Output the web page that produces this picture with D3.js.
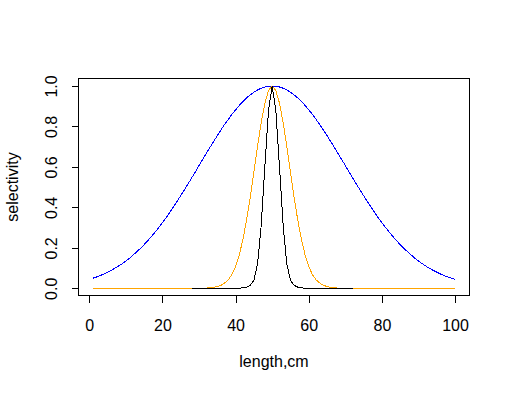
<!DOCTYPE html>
<html>
<head>
<meta charset="utf-8">
<script src="https://cdn.jsdelivr.net/npm/d3@7"></script>
<style>
    body { margin: 0; background: #fff; }
    #chart { width: 509px; height: 394px; }
    text { font-family: "Liberation Sans", Arial, sans-serif; font-size: 16px; fill: #000; }
</style>
</head>
<body>
<div id="chart"></div>
<script>
// length classes (cm)
const lengths = d3.range(1, 101)
const narrowLengths = d3.range(28, 73)

// selectivity curves
const selBlue = [
    0.050, 0.056, 0.063, 0.071, 0.080, 0.089, 0.099, 0.110, 0.122, 0.135,
    0.149, 0.165, 0.181, 0.198, 0.216, 0.236, 0.256, 0.278, 0.301, 0.325,
    0.349, 0.375, 0.402, 0.430, 0.458, 0.487, 0.516, 0.546, 0.576, 0.607,
    0.637, 0.667, 0.697, 0.726, 0.755, 0.783, 0.810, 0.835, 0.860, 0.882,
    0.904, 0.923, 0.941, 0.956, 0.969, 0.980, 0.989, 0.995, 0.999, 1.000,
    0.999, 0.995, 0.989, 0.980, 0.969, 0.956, 0.941, 0.923, 0.904, 0.882,
    0.860, 0.835, 0.810, 0.783, 0.755, 0.726, 0.697, 0.667, 0.637, 0.607,
    0.576, 0.546, 0.516, 0.487, 0.458, 0.430, 0.402, 0.375, 0.349, 0.325,
    0.301, 0.278, 0.256, 0.236, 0.216, 0.198, 0.181, 0.165, 0.149, 0.135,
    0.122, 0.110, 0.099, 0.089, 0.080, 0.071, 0.063, 0.056, 0.050, 0.044
]

const selOrange = [
    0, 0, 0, 0, 0, 0, 0, 0, 0, 0,
    0, 0, 0, 0, 0, 0, 0, 0, 0, 0,
    0, 0, 0, 0, 0, 0, 0, 0, 0, 0,
    0, 0.001, 0.003, 0.005, 0.009, 0.015, 0.026, 0.042, 0.068, 0.108,
    0.165, 0.241, 0.337, 0.449, 0.574, 0.701, 0.819, 0.915, 0.978, 1.000,
    0.978, 0.915, 0.819, 0.701, 0.574, 0.449, 0.337, 0.241, 0.165, 0.108,
    0.068, 0.042, 0.026, 0.015, 0.009, 0.005, 0.003, 0.001, 0, 0,
    0, 0, 0, 0, 0, 0, 0, 0, 0, 0,
    0, 0, 0, 0, 0, 0, 0, 0, 0, 0,
    0, 0, 0, 0, 0, 0, 0, 0, 0, 0
]

const selBlack = [
    0, 0, 0, 0, 0, 0, 0, 0, 0, 0, 0, 0, 0,
    0.001, 0.002, 0.006, 0.015, 0.040, 0.120, 0.310, 0.600, 0.880, 1.000,
    0.880, 0.600, 0.310, 0.120, 0.040, 0.015, 0.006, 0.002, 0.001,
    0, 0, 0, 0, 0, 0, 0, 0, 0, 0, 0, 0, 0
]

const xTicks = [0, 20, 40, 60, 80, 100]
const yTicks = [0, 0.2, 0.4, 0.6, 0.8, 1.0]

function draw()
{
    const width = 509
    const height = 394
    const box = { left: 78.5, right: 469.5, top: 78.5, bottom: 295.5 }

    var svg = d3.select("#chart")
        .append("svg")
            .attr("width", width)
            .attr("height", height)

    // R style 4% padding around the data range
    const x = d3.scaleLinear().domain([1 - 0.04 * 99, 100 + 0.04 * 99]).range([box.left, box.right])
    const y = d3.scaleLinear().domain([-0.04, 1.04]).range([296.4, 77.9])

    const line = d3.line().x(d => x(d[0])).y(d => y(d[1]))

    var series = [
        { xs: lengths, ys: selBlue, color: "#0000ff" },
        { xs: lengths, ys: selOrange, color: "#ffa500" },
        { xs: narrowLengths, ys: selBlack, color: "#000000" }
    ]

    // the R device draws without antialiasing
    series.forEach(s => {
        svg.append("path")
            .datum(s.xs.map((v, i) => [v, s.ys[i]]))
            .attr("fill", "none")
            .attr("stroke", s.color)
            .attr("stroke-width", 1)
            .attr("shape-rendering", "crispEdges")
            .attr("d", line)
    })

    // bottom axis
    var gx = svg.append("g")
        .attr("transform", `translate(0, ${box.bottom})`)
        .call(d3.axisBottom(x).tickValues(xTicks).tickSize(7).tickFormat(d3.format("d")))
    gx.select(".domain").remove()
    gx.selectAll("line").attr("stroke", "#000").attr("shape-rendering", "crispEdges")
    gx.selectAll("text")
        .attr("y", null).attr("dy", null)
        .attr("transform", "translate(0, 35.5)")
        .style("font-family", "'Liberation Sans', Arial, sans-serif")
        .style("font-size", "16px")

    // left axis, labels turned like R's las=0
    var gy = svg.append("g")
        .attr("transform", `translate(${box.left}, 0)`)
        .call(d3.axisLeft(y).tickValues(yTicks).tickSize(7).tickFormat(d3.format(".1f")))
    gy.select(".domain").remove()
    gy.selectAll("line").attr("stroke", "#000").attr("shape-rendering", "crispEdges")
    gy.selectAll("text")
        .attr("x", null).attr("dy", null)
        .attr("text-anchor", "middle")
        .attr("transform", "translate(-21.5, 0) rotate(-90)")
        .style("font-family", "'Liberation Sans', Arial, sans-serif")
        .style("font-size", "16px")

    // frame
    svg.append("rect")
        .attr("x", box.left)
        .attr("y", box.top)
        .attr("width", box.right - box.left)
        .attr("height", box.bottom - box.top)
        .attr("fill", "none")
        .attr("stroke", "#000")
        .attr("stroke-width", 1)
        .attr("shape-rendering", "crispEdges")

    svg.append("text")
        .attr("x", (box.left + box.right) / 2)
        .attr("y", 367)
        .attr("text-anchor", "middle")
        .text("length,cm")

    svg.append("text")
        .attr("transform", `translate(18, ${(box.top + box.bottom) / 2}) rotate(-90)`)
        .attr("text-anchor", "middle")
        .text("selectivity")
}

draw()
</script>
</body>
</html>
